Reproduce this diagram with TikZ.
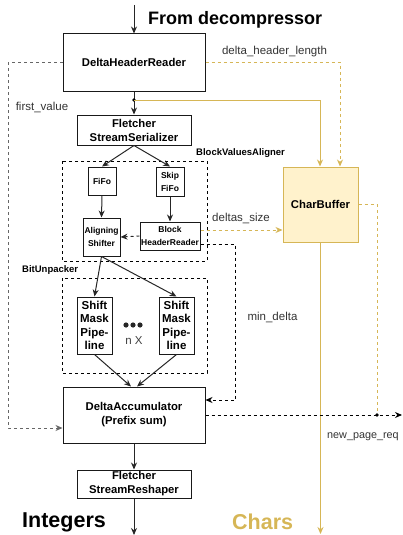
\documentclass[tikz,border=0pt]{standalone}
\usepackage{fontspec}
\setmainfont{Liberation Sans}
\usetikzlibrary{arrows.meta}
\definecolor{chargold}{HTML}{D6B656}
\definecolor{charfill}{HTML}{FFF2CC}
\definecolor{labelgray}{HTML}{333333}

\begin{document}
\begin{tikzpicture}[x=1pt, y=-1pt, >={Stealth[length=7pt, width=6pt]},
    box/.style={draw=black!90, line width=1pt, align=center, inner sep=0pt,
        font=\bfseries\fontsize{11.3}{14}\selectfont},
    smallbox/.style={box, font=\bfseries\fontsize{8.5}{13}\selectfont},
    pipebox/.style={box, minimum width=35pt, minimum height=57pt,
        font=\bfseries\fontsize{11.5}{13.5}\selectfont},
    lbl/.style={text=labelgray, inner sep=0pt, font=\fontsize{11.5}{13}\selectfont},
    grouplbl/.style={anchor=west, inner sep=0pt, font=\bfseries\fontsize{9.5}{11}\selectfont},
    bigtxt/.style={anchor=west, inner sep=0pt, font=\bfseries\fontsize{21.5}{24}\selectfont},
    flow/.style={->, line width=1pt, black!85},
    ctrl/.style={->, line width=0.9pt, dash pattern=on 3pt off 3pt},
    yel/.style={chargold, line width=1pt},
    group/.style={draw, line width=0.9pt, dash pattern=on 3pt off 3pt}]
        \useasboundingbox (0,0) rectangle (403,535);

        % Groups
        \draw[group] (62,161) rectangle (207,261);
        \draw[group] (62,278) rectangle (207,373);
        \node[grouplbl] (bvalbl) at (196,153) {BlockValuesAligner};
        \node[grouplbl] (bulbl) at (22,270) {BitUnpacker};

        % Blocks
        \node[box, minimum width=142pt, minimum height=57pt] (dhr) at (134,62.5) {DeltaHeaderReader};
        \node[box, minimum width=114pt, minimum height=30pt] (fss) at (134,130) {Fletcher\\StreamSerializer};
        \node[smallbox, minimum width=28pt, minimum height=28pt] (fifo) at (102,181) {FiFo};
        \node[smallbox, minimum width=28pt, minimum height=29pt] (skip) at (170,181.5) {Skip\\FiFo};
        \node[smallbox, minimum width=37pt, minimum height=38pt] (align) at (101.5,237) {Aligning\\Shifter};
        \node[smallbox, minimum width=60pt, minimum height=28pt] (bhr) at (170,236) {Block\\HeaderReader};
        \node[pipebox] (smpa) at (94.5,325.5) {Shift\\Mask\\Pipe-\\line};
        \node[pipebox] (smpb) at (176.5,325.5) {Shift\\Mask\\Pipe-\\line};
        \node[box, minimum width=142pt, minimum height=56pt] (da) at (134,415) {DeltaAccumulator\\(Prefix sum)};
        \node[box, minimum width=114pt, minimum height=28pt] (fsr) at (134,484) {Fletcher\\StreamReshaper};
        \node[box, draw=chargold, fill=charfill, minimum width=75pt, minimum height=75pt] (cb) at (320.5,204.5) {CharBuffer};

        % n X copies
        \foreach \i in {0,...,2} {
            \fill[black!85] (126+7*\i,325) circle (2.6pt);
        }
        \node[lbl, text=black!75] (ncopies) at (134,341) {n X};

        % Input and outputs
        \coordinate (in) at (134,5);
        \coordinate (intout) at (134,535);
        \coordinate (charout) at (320.5,534);
        \node[anchor=west, inner sep=0pt, font=\bfseries\fontsize{18}{20}\selectfont] (src) at (148,20) {From decompressor};
        \node[bigtxt] (ints) at (22,522) {Integers};
        \node[bigtxt, text=chargold] (chars) at (232,522) {Chars};

        % Main data path
        \draw[flow] (in) -- (dhr.north);
        \coordinate (split) at (134,100);
        \draw[flow] (dhr.south) -- (fss.north);
        \fill[black] (split) circle (1.8pt);
        \draw[flow] (fss.south) -- (fifo.north);
        \draw[flow] (fss.south) -- (skip.north);
        \draw[flow] (fifo.south) -- (align.north);
        \draw[flow] (skip.south) -- (bhr.north);
        \draw[flow] (align.south) -- (smpa.north);
        \draw[flow] (align.south) -- (smpb.north);
        \draw[flow] (smpa.south) -- ([xshift=-3pt]da.north);
        \draw[flow] (smpb.south) -- ([xshift=3pt]da.north);
        \draw[flow] (da.south) -- (fsr.north);
        \draw[flow] (fsr.south) -- (intout);

        % Char path
        \draw[yel, ->] (split) -| ([xshift=-0.5pt]cb.north);
        \draw[yel, ->] (cb.south) -- (charout);

        % Side signals
        \draw[ctrl, chargold] (dhr.east) -| ([xshift=19.5pt]cb.north);
        \node[lbl] (dhl) at (274.5,52) {delta\_header\_length};

        \coordinate (fvleft) at (8,428);
        \draw[ctrl, black!60] (dhr.west) -| (fvleft) -- ([yshift=-13pt]da.west);
        \node[lbl] (fv) at (42,107) {first\_value};

        \draw[ctrl, black!85] (bhr.west) -- (align.east);

        \draw[ctrl, chargold] ([yshift=6pt]bhr.east) -- ([yshift=6pt]bhr.east -| cb.west);
        \node[lbl] (ds) at (241,218) {deltas\_size};

        \coordinate (mdright) at (235,400);
        \draw[ctrl, black] ([yshift=-8pt]bhr.east) -| (mdright) -- ([yshift=15pt]da.east);
        \node[lbl] (md) at (272.5,317) {min\_delta};

        \coordinate (nprjoin) at (377,415);
        \coordinate (nprout) at (402,415);
        \draw[ctrl, chargold, -] (cb.east) -| (nprjoin);
        \draw[ctrl, black] (da.east) -- (nprout);
        \fill[black] (nprjoin) circle (1.8pt);
        \node[lbl, anchor=west, font=\fontsize{10.8}{13}\selectfont] (npr) at (327,437) {new\_page\_req};
\end{tikzpicture}
\end{document}
